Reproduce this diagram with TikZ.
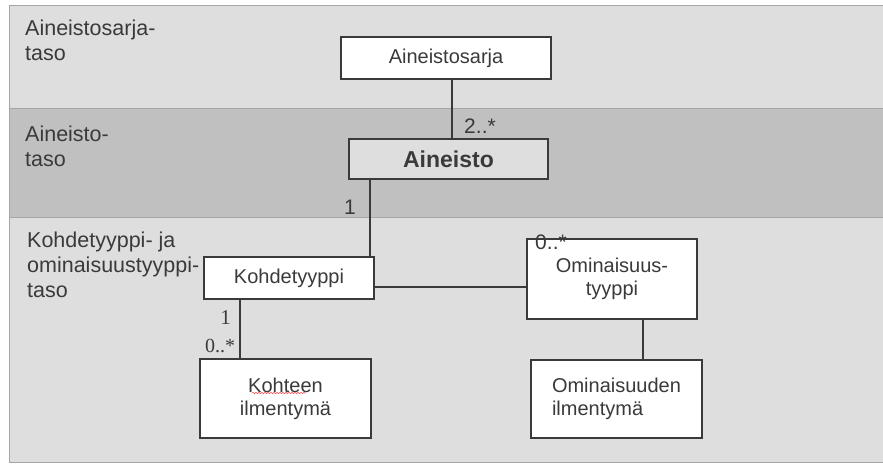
\documentclass[tikz,border=0pt]{standalone}
\usepackage{fontspec}
\setmainfont{Liberation Sans}
\newfontfamily\serifnum{Liberation Serif}
\usetikzlibrary{calc,decorations.pathmorphing}
\definecolor{bandlight}{HTML}{DEDEDE}
\definecolor{banddark}{HTML}{C0C0C0}
\definecolor{edgegray}{HTML}{A6A6A6}
\definecolor{inkgray}{HTML}{3A3A3A}
\tikzset{
	luokka/.style={draw=inkgray, line width=1.2pt, fill=white, text=inkgray, inner sep=0pt, align=center, font=\fontsize{20}{23}\selectfont},
	tasoteksti/.style={anchor=base west, align=left, text=inkgray, inner sep=0pt, font=\fontsize{21.5}{25}\selectfont},
	kerroin/.style={text=inkgray, inner sep=0pt, font=\fontsize{21}{24}\selectfont}
}

\begin{document}
\begin{tikzpicture}[x=1pt, y=-1pt, yhteys/.style={draw=inkgray, line width=1.2pt}]
			%%%%% START %%%%%
			\useasboundingbox (0, 0) rectangle (883, 466);
			\fill[white] (0, 0) rectangle (883, 466);
			
			\fill[bandlight] (9, 5) rectangle (883, 108);
			\fill[banddark] (9, 108) rectangle (883, 217);
			\fill[bandlight] (9, 217) rectangle (883, 462);
			\draw[edgegray, line width=1pt] (9, 108) -- (883, 108);
			\draw[edgegray, line width=1pt] (9, 217) -- (883, 217);
			\draw[edgegray, line width=1pt] (9, 5) rectangle (883, 462);
			
			% base = last line
			\node[tasoteksti] (taso1) at (25, 60) {Aineistosarja-\\taso};
			\node[tasoteksti] (taso2) at (25, 166) {Aineisto-\\taso};
			\node[tasoteksti] (taso3) at (27, 297) {Kohdetyyppi- ja\\ominaisuustyyppi-\\taso};
			
			\node[luokka, minimum width=210, minimum height=42] (sarja) at (446, 58) {Aineistosarja};
			\node[luokka, fill=bandlight, minimum width=199, minimum height=40, font=\fontsize{23}{26}\selectfont\bfseries] (aineisto) at (448.5, 159) {Aineisto};
			\node[luokka, minimum width=170, minimum height=42] (kohde) at (289, 278) {Kohdetyyppi};
			\node[luokka, minimum width=170, minimum height=80] (omt) at (612, 279) {Ominaisuus-\\tyyppi};
			\node[luokka, minimum width=171, minimum height=79] (kohteen) at (285.5, 398.5) {Kohteen\\ilmentymä};
			\node[luokka, align=left, minimum width=171, minimum height=78] (ominaisuuden) at (616.5, 399) {Ominaisuuden\\ilmentymä};
			
			\draw[yhteys] ([xshift=6]sarja.south) -- ([xshift=6]sarja.south |- aineisto.north);
			\draw[yhteys] ([xshift=-78.5]aineisto.south) -- ([xshift=-78.5]aineisto.south |- kohde.north);
			\draw[yhteys] ([yshift=-9]kohde.east) -- ([yshift=-9]kohde.east -| omt.west);
			\draw[yhteys] ([xshift=-49]kohde.south) -- ([xshift=-49]kohde.south |- kohteen.north);
			\draw[yhteys] ([xshift=31]omt.south) -- ([xshift=31]omt.south |- ominaisuuden.north);
			
			\node[kerroin] (k1) at (480, 126) {2..*};
			\node[kerroin] (k2) at (350, 207) {1};
			\node[kerroin] (k3) at (551, 242) {0..*};
			\node[kerroin, font=\fontsize{21}{24}\selectfont\serifnum] (k4) at (225.5, 317.5) {1};
			\node[kerroin, font=\fontsize{20}{23}\selectfont\serifnum] (k5) at (220, 346) {0..*};
			
			\draw[red!70, line width=0.5pt, decorate, decoration={snake, amplitude=0.8, segment length=3}] (252, 393) -- (306, 393);
			%%%%% END %%%%%
\end{tikzpicture}
\end{document}
